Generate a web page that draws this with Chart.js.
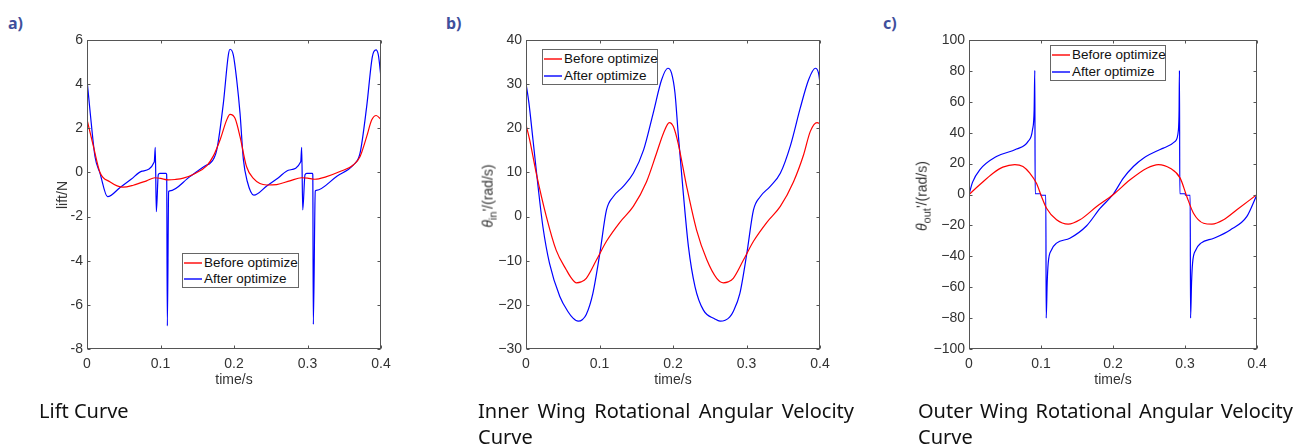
<!DOCTYPE html>
<html>
<head>
<meta charset="utf-8">
<script src="https://cdn.jsdelivr.net/npm/chart.js@4.4.1/dist/chart.umd.min.js"></script>
<style>
body { margin: 0; background: #fff; width: 1310px; height: 445px; position: relative; overflow: hidden; }
canvas { position: absolute; top: 0; }
.tag { position: absolute; font: bold 16px "Noto Sans"; line-height: 20px; color: #3f4f9c; }
.cap { position: absolute; font: 20px "Noto Sans"; line-height: 26px; color: #111; text-align: justify; }
.yt { position: absolute; font: 14px "Liberation Sans"; color: #333; white-space: nowrap; transform: translate(-50%, -50%) rotate(-90deg); }
.yt sub { font-size: 11px; }
.xt { position: absolute; font: 14px "Liberation Sans"; color: #333; white-space: nowrap; transform: translate(-50%, -50%); }
.leg { position: absolute; border: 1px solid #666; background: #fff; box-sizing: border-box; }
.leg div { position: absolute; left: 0; height: 16px; line-height: 16px; font: 13.5px "Liberation Sans"; color: #111; white-space: nowrap; }
.leg svg { display: inline-block; vertical-align: middle; margin: 0 2px 0 1px; }
</style>
</head>
<body>
<div class="tag" style="left:8px;top:13px">a)</div>
<div class="tag" style="left:446px;top:13px">b)</div>
<div class="tag" style="left:883px;top:13px">c)</div>

<canvas id="lift" width="440" height="400" style="left:0"></canvas>
<canvas id="inner" width="440" height="400" style="left:440px"></canvas>
<canvas id="outer" width="440" height="400" style="left:870px"></canvas>

<div class="yt" style="left:62px;top:195px">lift/N</div>
<div class="yt" style="left:489px;top:196px"><i>θ</i><sub>in</sub>'/(rad/s)</div>
<div class="yt" style="left:923px;top:196px"><i>θ</i><sub>out</sub>'/(rad/s)</div>

<div class="xt" style="left:234px;top:379px">time/s</div>
<div class="xt" style="left:673px;top:379px">time/s</div>
<div class="xt" style="left:1113px;top:379px">time/s</div>

<div class="cap" style="left:39px;top:398px;width:200px">Lift Curve</div>
<div class="cap" style="left:478px;top:398px;width:376px">Inner Wing Rotational Angular Velocity Curve</div>
<div class="cap" style="left:918px;top:398px;width:375px">Outer Wing Rotational Angular Velocity Curve</div>

<script>
// time axis shared by all three plots
const timeTicks = [0, 0.1, 0.2, 0.3, 0.4];
const timeTickLabels = ['0', '0.1', '0.2', '0.3', '0.4'];
const seriesNames = ['Before optimize', 'After optimize'];
const seriesColors = ['#ff0000', '#0000ff'];

// a) lift
const liftTicks = [-8, -6, -4, -2, 0, 2, 4, 6];
const liftTickLabels = ['-8', '-6', '-4', '-2', '0', '2', '4', '6'];
const liftBeforeT = [0, 0.0086, 0.0177, 0.031, 0.049, 0.063, 0.081, 0.0925, 0.1, 0.1107, 0.12, 0.131, 0.145, 0.1628, 0.172, 0.181, 0.19, 0.1946, 0.2014, 0.2082, 0.217, 0.226, 0.2445, 0.258, 0.276, 0.292, 0.3, 0.31, 0.325, 0.345, 0.3624, 0.3714, 0.3805, 0.3873, 0.3935, 0.4];
const liftBeforeV = [2.4, 1.2, 0, -0.42, -0.67, -0.58, -0.38, -0.24, -0.27, -0.34, -0.32, -0.26, -0.08, 0.3, 0.75, 1.47, 2.37, 2.63, 2.45, 1.62, 0.27, -0.26, -0.57, -0.55, -0.38, -0.24, -0.26, -0.31, -0.2, 0.05, 0.34, 0.71, 1.62, 2.37, 2.58, 2.4];
const liftAfterT = [0, 0.004, 0.0109, 0.0177, 0.028, 0.045, 0.06, 0.075, 0.0915, 0.0929, 0.0943, 0.097, 0.099, 0.1075, 0.1084, 0.1093, 0.1111, 0.1125, 0.14, 0.1628, 0.167, 0.1764, 0.1855, 0.1923, 0.1946, 0.1991, 0.2037, 0.2082, 0.2127, 0.218, 0.227, 0.245, 0.26, 0.275, 0.2908, 0.2921, 0.2935, 0.2966, 0.299, 0.3066, 0.3072, 0.3079, 0.3106, 0.312, 0.34, 0.3624, 0.3714, 0.3805, 0.3882, 0.3932, 0.3964, 0.4];
const liftAfterV = [4.2, 2.83, 0.71, -0.04, -1.1, -0.68, -0.31, 0.06, 0.47, 1.14, -1.78, -0.1, -0.04, -0.04, -0.1, -6.95, -0.87, -0.84, -0.19, 0.34, 0.4, 1.0, 3.13, 5.32, 5.58, 5.32, 4.19, 2.68, 0.6, -0.4, -1.03, -0.6, -0.25, 0.11, 0.48, 1.14, -1.7, -0.1, -0.04, -0.04, -0.1, -6.88, -0.84, -0.81, -0.17, 0.34, 0.86, 2.98, 5.24, 5.55, 5.32, 4.3];

// b) inner wing
const innerTicks = [-30, -20, -10, 0, 10, 20, 30, 40];
const innerTickLabels = ['\u221230', '\u221220', '\u221210', '0', '10', '20', '30', '40'];
const innerBeforeT = [0, 0.005, 0.014, 0.0277, 0.041, 0.055, 0.062, 0.0686, 0.075, 0.082, 0.096, 0.1095, 0.1277, 0.146, 0.164, 0.1777, 0.187, 0.195, 0.2005, 0.207, 0.2186, 0.232, 0.246, 0.2595, 0.2686, 0.275, 0.282, 0.296, 0.3095, 0.3277, 0.346, 0.364, 0.3777, 0.3868, 0.396, 0.4];
const innerBeforeV = [20.8, 17.4, 9.8, 0, -7.6, -12.1, -14.0, -15, -14.8, -14, -9.8, -5.6, -1.3, 2.3, 7.9, 14.4, 18.9, 21.3, 20.4, 16.6, 6.8, -3, -9.8, -14, -15, -14.8, -14, -9.8, -5.6, -1.3, 2.3, 7.9, 14, 19.3, 21.3, 21];
const innerAfterT = [0, 0.004, 0.0095, 0.0164, 0.023, 0.032, 0.046, 0.057, 0.064, 0.071, 0.077, 0.082, 0.091, 0.1005, 0.1095, 0.1186, 0.132, 0.146, 0.16, 0.173, 0.1845, 0.193, 0.198, 0.2027, 0.207, 0.214, 0.221, 0.23, 0.2414, 0.257, 0.264, 0.271, 0.277, 0.282, 0.291, 0.3005, 0.3095, 0.3186, 0.332, 0.346, 0.36, 0.373, 0.3845, 0.3936, 0.398, 0.4];
const innerAfterV = [30.2, 25.7, 17.4, 6.8, -2.3, -10.6, -18.1, -21.5, -23.0, -23.7, -23.3, -22.2, -17.4, -8.3, 1.5, 4.5, 6.8, 9.8, 15.1, 23.4, 31, 33.6, 32.5, 28, 18.9, 5.3, -6.8, -15.9, -21.2, -23.2, -23.7, -23.5, -22.8, -21.5, -17.4, -8.3, 1.5, 4.5, 6.8, 9.8, 16.2, 24.5, 31, 33.6, 32.5, 30.2];

// c) outer wing
const outerTicks = [-100, -80, -60, -40, -20, 0, 20, 40, 60, 80, 100];
const outerTickLabels = ['\u2212100', '\u221280', '\u221260', '\u221240', '\u221220', '0', '20', '40', '60', '80', '100'];
const outerBeforeT = [0, 0.0148, 0.0334, 0.047, 0.0636, 0.075, 0.0845, 0.0937, 0.1007, 0.1077, 0.1216, 0.1378, 0.154, 0.1773, 0.2005, 0.2237, 0.247, 0.263, 0.2794, 0.2933, 0.3025, 0.3118, 0.3258, 0.3374, 0.3536, 0.372, 0.4];
const outerBeforeV = [0, 6.3, 13.8, 17.7, 19.4, 18.1, 13.8, 7.3, -1.3, -8.9, -16.4, -19.2, -16.4, -7.8, 0, 9.5, 17, 19.4, 17, 10.6, -1.3, -12.1, -18.6, -19.2, -16.4, -9.9, 0];
const outerAfterT = [0, 0.005, 0.0149, 0.0381, 0.066, 0.0821, 0.0882, 0.0905, 0.0914, 0.0919, 0.0994, 0.0998, 0.1067, 0.1072, 0.1086, 0.11, 0.1147, 0.1216, 0.1401, 0.1634, 0.182, 0.2, 0.2144, 0.2283, 0.2422, 0.27, 0.2863, 0.2909, 0.2918, 0.2923, 0.2928, 0.3002, 0.3006, 0.3072, 0.3077, 0.3091, 0.3105, 0.3152, 0.3221, 0.3401, 0.3628, 0.386, 0.4];
const outerAfterV = [0, 8, 16, 24.6, 29.4, 34.4, 41.9, 55, 80.3, 0.5, 0.5, -0.5, -0.5, -80, -57, -44.5, -35.8, -31.5, -28.3, -20.2, -9, 0, 10.6, 18.1, 23.5, 30, 34.4, 41.9, 55, 80.3, 0.5, 0.5, -0.5, -0.5, -80, -57, -44.5, -35.8, -31.5, -28.3, -22.9, -14.2, 0];

const tickFont = { family: 'Liberation Sans', size: 14 };
const tickColor = '#333';

function pts(ts, vs) {
  return ts.map((t, i) => ({ x: t, y: vs[i] }));
}

// matlab style: closed box with ticks pointing inwards
const boxPlugin = {
  id: 'box',
  afterDatasetsDraw(chart) {
    const { ctx, chartArea: a, scales: { x, y } } = chart;
    const l = Math.round(a.left) + 0.5, r = Math.round(a.right) - 0.5;
    const t = Math.round(a.top) + 0.5, b = Math.round(a.bottom) - 0.5;
    ctx.save();
    ctx.strokeStyle = '#555';
    ctx.lineWidth = 1;
    ctx.beginPath();
    x.ticks.forEach(tk => {
      const p = Math.round(x.getPixelForValue(tk.value)) + 0.5;
      ctx.moveTo(p, b); ctx.lineTo(p, b - 3);
      ctx.moveTo(p, t); ctx.lineTo(p, t + 3);
    });
    y.ticks.forEach(tk => {
      const p = Math.round(y.getPixelForValue(tk.value)) + 0.5;
      ctx.moveTo(l, p); ctx.lineTo(l + 3, p);
      ctx.moveTo(r, p); ctx.lineTo(r - 3, p);
    });
    ctx.stroke();
    ctx.strokeRect(l, t, r - l, b - t);
    ctx.restore();
  }
};

function panel(id, o) {
  const chart = new Chart(document.getElementById(id), {
    type: 'line',
    data: {
      datasets: [
        { label: seriesNames[0], data: pts(o.bt, o.bv), borderColor: seriesColors[0], borderWidth: 1.2, pointRadius: 0, cubicInterpolationMode: 'monotone' },
        { label: seriesNames[1], data: pts(o.at, o.av), borderColor: seriesColors[1], borderWidth: 1.2, pointRadius: 0, cubicInterpolationMode: 'monotone' }
      ]
    },
    options: {
      responsive: false,
      animation: false,
      layout: { padding: { top: 40, right: o.padRight, bottom: 0, left: 0 } },
      plugins: { legend: { display: false }, tooltip: { enabled: false } },
      scales: {
        x: {
          type: 'linear', min: 0, max: 0.4,
          afterBuildTicks: s => { s.ticks = timeTicks.map(v => ({ value: v })); },
          afterFit: s => { s.height = 51; },
          ticks: { callback: (v, i) => timeTickLabels[i], padding: 7, font: tickFont, color: tickColor, maxRotation: 0, autoSkip: false },
          grid: { display: false, drawTicks: false, tickLength: 0 }, border: { display: false }
        },
        y: {
          type: 'linear', min: o.yTicks[0], max: o.yTicks[o.yTicks.length - 1],
          afterBuildTicks: s => { s.ticks = o.yTicks.map(v => ({ value: v })); },
          afterFit: s => { s.width = o.yWidth; },
          ticks: { callback: (v, i) => o.yLabels[i], padding: 4, font: tickFont, color: tickColor, autoSkip: false },
          grid: { display: false, drawTicks: false, tickLength: 0 }, border: { display: false }
        }
      }
    },
    plugins: [boxPlugin]
  });

  // legend box inside the axes
  const leg = document.createElement('div');
  leg.className = 'leg';
  Object.assign(leg.style, { left: o.leg[0] + 'px', top: o.leg[1] + 'px', width: o.leg[2] + 'px', height: o.leg[3] + 'px' });
  leg.innerHTML = chart.data.datasets.map((ds, i) =>
    '<div style="top:' + (o.legRows[i] - 8) + 'px">' +
    '<svg width="18" height="4"><line x1="0" y1="2" x2="18" y2="2" stroke="' + seriesColors[i] + '" stroke-width="1.4"/></svg>' +
    ds.label + '</div>').join('');
  document.body.appendChild(leg);
}

panel('lift', { bt: liftBeforeT, bv: liftBeforeV, at: liftAfterT, av: liftAfterV, yTicks: liftTicks, yLabels: liftTickLabels, yWidth: 87, padRight: 59, leg: [182, 253, 117, 35], legRows: [9, 25] });
panel('inner', { bt: innerBeforeT, bv: innerBeforeV, at: innerAfterT, av: innerAfterV, yTicks: innerTicks, yLabels: innerTickLabels, yWidth: 86, padRight: 60, leg: [542, 49, 116, 36], legRows: [9, 26] });
panel('outer', { bt: outerBeforeT, bv: outerBeforeV, at: outerAfterT, av: outerAfterV, yTicks: outerTicks, yLabels: outerTickLabels, yWidth: 99, padRight: 53, leg: [1050, 45, 116, 36], legRows: [9, 26] });
</script>
</body>
</html>
